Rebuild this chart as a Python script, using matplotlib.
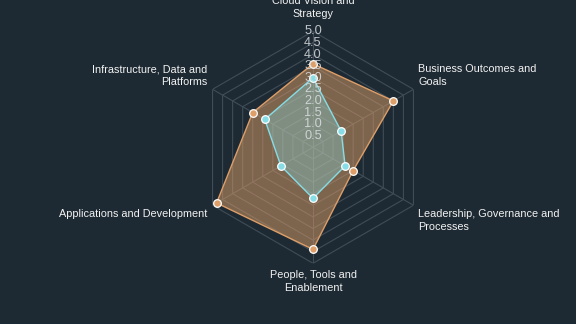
import numpy as np
import matplotlib
matplotlib.use("Agg")
import matplotlib.pyplot as plt

plt.rcParams['font.family'] = ['Liberation Sans', 'DejaVu Sans']

# Data
categories = [
    "Cloud Vision and\nStrategy",
    "Business Outcomes and\nGoals",
    "Leadership, Governance and\nProcesses",
    "People, Tools and\nEnablement",
    "Applications and Development",
    "Infrastructure, Data and\nPlatforms",
]
target_scores = [3.6, 4.0, 2.0, 4.4, 4.8, 3.0]
current_scores = [3.0, 1.4, 1.6, 2.2, 1.6, 2.4]
tick_values = [0.5, 1.0, 1.5, 2.0, 2.5, 3.0, 3.5, 4.0, 4.5, 5.0]

BG = "#1e2a33"
GRID = "#414d56"
ORANGE = "#dd9e68"
CYAN = "#86dde6"

fig = plt.figure(figsize=(5.76, 3.24), dpi=100, facecolor=BG)

# polar axes placed so the centre sits at ~(313, 147) px, radius ~116 px
cx, cy, r = 313 / 576, 1 - 147.3 / 324, 116
ax = fig.add_axes([cx - r / 576, cy - r / 324, 2 * r / 576, 2 * r / 324],
                  projection="polar", facecolor="none")
ax.set_theta_offset(np.pi / 2)
ax.set_theta_direction(-1)
ax.set_ylim(0, 5)
ax.spines["polar"].set_visible(False)
ax.grid(False)
ax.set_xticks([])
ax.set_yticks([])

n = len(categories)
angles = np.arange(n) * 2 * np.pi / n
closed = np.append(angles, angles[0])

# hexagonal grid rings and spokes
for t in tick_values:
    ax.plot(closed, [t] * (n + 1), color=GRID, lw=0.8, zorder=1)
for a in angles:
    ax.plot([a, a], [0, 5], color=GRID, lw=0.8, zorder=1)

# series
tgt = np.append(target_scores, target_scores[0])
cur = np.append(current_scores, current_scores[0])
ax.fill(closed, tgt, color=ORANGE, alpha=0.5, lw=0, zorder=2)
ax.plot(closed, tgt, color=ORANGE, lw=1.0, zorder=3)
ax.fill(closed, cur, color=CYAN, alpha=0.35, lw=0, zorder=4)
ax.plot(closed, cur, color=CYAN, lw=1.0, zorder=5)
ax.plot(angles, target_scores, 'o', ms=5.5, mfc=ORANGE, mec="white", mew=0.9, zorder=6)
ax.plot(angles, current_scores, 'o', ms=5.5, mfc=CYAN, mec="white", mew=0.9, zorder=7)

# radial tick labels on the top axis
for t in tick_values:
    ax.text(0, t, f"{t:.1f}", ha="center", va="center", fontsize=9.2,
            color="#dcdfe2", alpha=0.85, zorder=8)

# point labels around the chart
label_pos = [
    (0, 12, "center", "bottom"),
    (5, 2, "left", "bottom"),
    (5, -4, "left", "top"),
    (0, -7, "center", "top"),
    (-5, -4, "right", "top"),
    (-5, 2, "right", "bottom"),
]
for a, lab, (dx, dy, ha, va) in zip(angles, categories, label_pos):
    ax.annotate(lab, xy=(a, 5), xytext=(dx, dy), textcoords="offset pixels",
                ha=ha, va=va, fontsize=7.8, color="#f2f2f2", linespacing=1.35,
                multialignment=ha, annotation_clip=False)

fig.savefig("out.png", dpi=100, facecolor=BG)
